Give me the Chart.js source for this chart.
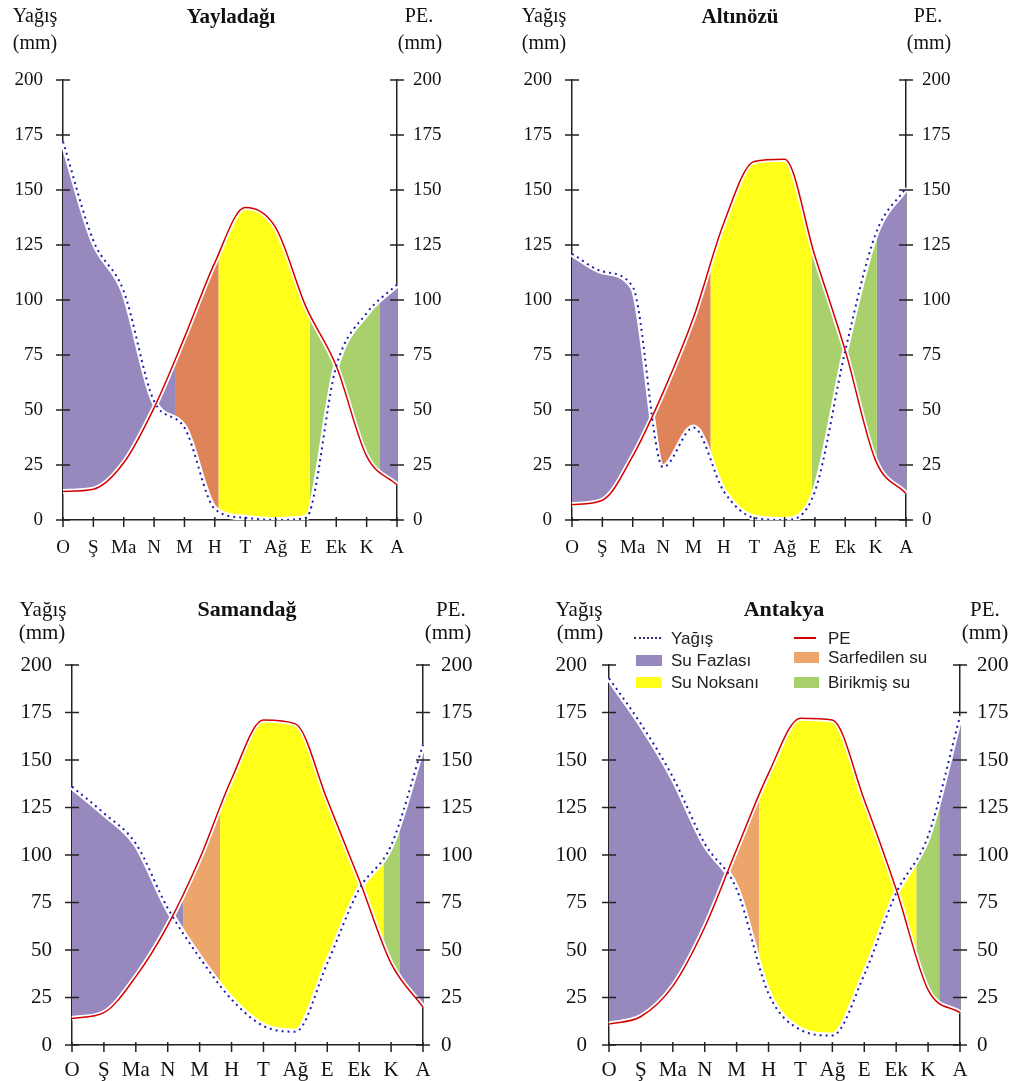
<!DOCTYPE html>
<html><head><meta charset="utf-8">
<script src="https://cdn.jsdelivr.net/npm/chart.js@4.4.0/dist/chart.umd.min.js"></script>
<style>
html,body{margin:0;padding:0;background:#fff;}
#wrap{position:relative;width:1018px;height:1081px;overflow:hidden;font-family:'Liberation Serif','Times New Roman',serif;color:#111;}
canvas{position:absolute;}
.c{position:absolute;transform:translate(-50%,-50%);white-space:nowrap;line-height:1;z-index:2;}
.t{font-weight:bold;}
.lg{position:absolute;transform:translateY(-50%);white-space:nowrap;line-height:1;font-family:'Liberation Sans',Arial,sans-serif;font-size:17px;color:#222;z-index:2;}
.sw{position:absolute;z-index:2;}
</style></head>
<body><div id="wrap">
<canvas id="c1" width="509" height="575" style="left:0;top:0"></canvas>
<canvas id="c2" width="509" height="575" style="left:509px;top:0"></canvas>
<canvas id="c3" width="509" height="501" style="left:0;top:580px"></canvas>
<canvas id="c4" width="509" height="501" style="left:509px;top:580px"></canvas>

<div class="c t" style="left:231px;top:16px;font-size:21px">Yayladağı</div>
<div class="c" style="left:35px;top:15px;font-size:20px">Yağış</div>
<div class="c" style="left:35px;top:42px;font-size:20px">(mm)</div>
<div class="c" style="left:419px;top:15px;font-size:20px">PE.</div>
<div class="c" style="left:420px;top:42px;font-size:20px">(mm)</div>

<div class="c t" style="left:740px;top:16px;font-size:21px">Altınözü</div>
<div class="c" style="left:544px;top:15px;font-size:20px">Yağış</div>
<div class="c" style="left:544px;top:42px;font-size:20px">(mm)</div>
<div class="c" style="left:928px;top:15px;font-size:20px">PE.</div>
<div class="c" style="left:929px;top:42px;font-size:20px">(mm)</div>

<div class="c t" style="left:247px;top:609px;font-size:22px">Samandağ</div>
<div class="c" style="left:43px;top:609px;font-size:21px">Yağış</div>
<div class="c" style="left:42px;top:632px;font-size:21px">(mm)</div>
<div class="c" style="left:451px;top:609px;font-size:21px">PE.</div>
<div class="c" style="left:448px;top:632px;font-size:21px">(mm)</div>

<div class="c t" style="left:784px;top:609px;font-size:22px">Antakya</div>
<div class="c" style="left:579px;top:609px;font-size:21px">Yağış</div>
<div class="c" style="left:580px;top:632px;font-size:21px">(mm)</div>
<div class="c" style="left:985px;top:609px;font-size:21px">PE.</div>
<div class="c" style="left:985px;top:632px;font-size:21px">(mm)</div>

<div class="sw" style="left:634px;top:637px;width:27px;height:0;border-top:2px dotted #2a2a70"></div>
<div class="lg" style="left:671px;top:638px">Yağış</div>
<div class="sw" style="left:794px;top:637px;width:22px;height:2px;background:#d40000"></div>
<div class="lg" style="left:828px;top:638px">PE</div>
<div class="sw" style="left:636px;top:655px;width:26px;height:11px;background:#9788bd"></div>
<div class="lg" style="left:671px;top:660px">Su Fazlası</div>
<div class="sw" style="left:794px;top:652px;width:25px;height:11px;background:#eca66b"></div>
<div class="lg" style="left:828px;top:657px">Sarfedilen su</div>
<div class="sw" style="left:636px;top:677px;width:25px;height:11px;background:#ffff1a"></div>
<div class="lg" style="left:671px;top:682px">Su Noksanı</div>
<div class="sw" style="left:794px;top:677px;width:25px;height:11px;background:#a8d16e"></div>
<div class="lg" style="left:828px;top:682px">Birikmiş su</div>
</div>
<script>
// ---- data ----
const months = ['O','Ş','Ma','N','M','H','T','Ağ','E','Ek','K','A'];
const yTickValues = [0,25,50,75,100,125,150,175,200];

const yayladagiYagis = [172,127,104,54,42,5,1,0,1,70,94,107];
const yayladagiPE    = [13,14,26,51,83,117,142,133,97,70,29,16];
const yayladagiZoneEdges = [0,3.69,5.12,8.13,10.44,11];
const yayladagiZoneKinds = ['fazla','sarf','noksan','birik','fazla'];

const altinozuYagis = [121,113,106,24,42,13,1,0,13,77,130,151];
const altinozuPE    = [7,9,29,58,92,135,163,164,120,77,27,12];
const altinozuZoneEdges = [0,2.69,4.56,7.9,10.04,11];
const altinozuZoneKinds = ['fazla','sarf','noksan','birik','fazla'];

const samandagYagis = [136,122,106,72,46,24,10,7,43,82,105,158];
const samandagPE    = [14,17,36,63,98,140,171,169,129,87,43,20];
const samandagZoneEdges = [0,3.49,4.64,9.76,10.28,11];
const samandagZoneKinds = ['fazla','sarf','noksan','birik','fazla'];

const antakyaYagis = [193,169,141,106,82,27,8,5,37,80,110,173];
const antakyaPE    = [11,15,31,62,103,143,172,171,129,82,29,17];
const antakyaZoneEdges = [0,3.66,4.7,9.63,10.35,11];
const antakyaZoneKinds = ['fazla','sarf','noksan','birik','fazla'];

// ---- plugins ----
Chart.defaults.font.family = "'Liberation Serif','Times New Roman',serif";
Chart.defaults.color = '#111';

const zoneClip = {
  id: 'zoneClip',
  beforeDatasetDraw(chart, args) {
    const ds = chart.data.datasets[args.index];
    if (!ds.zone) return;
    const sx = chart.scales.x, a = chart.chartArea, ctx = chart.ctx;
    const l = sx.getPixelForValue(ds.zone[0]), r = sx.getPixelForValue(ds.zone[1]);
    ctx.save(); ctx.beginPath(); ctx.rect(l, a.top - 10, r - l, a.bottom - a.top + 20); ctx.clip();
  },
  afterDatasetDraw(chart, args) {
    const ds = chart.data.datasets[args.index];
    if (ds.zone) chart.ctx.restore();
  }
};
const fillerPlugin = Chart.registry.getPlugin('filler');
Chart.unregister(fillerPlugin);
Chart.register(zoneClip);
Chart.register(fillerPlugin);

const crossTicks = {
  id: 'crossTicks',
  afterDraw(chart) {
    const ctx = chart.ctx, a = chart.chartArea, L = 7;
    ctx.save(); ctx.strokeStyle = '#222'; ctx.lineWidth = 1.5;
    ['y','y2'].forEach(id => {
      const s = chart.scales[id]; const xx = id === 'y' ? a.left : a.right;
      s.ticks.forEach((t, i) => { const py = s.getPixelForTick(i); ctx.beginPath(); ctx.moveTo(xx - L, py); ctx.lineTo(xx + L, py); ctx.stroke(); });
    });
    const sx = chart.scales.x;
    sx.ticks.forEach((t, i) => { const px = sx.getPixelForTick(i); ctx.beginPath(); ctx.moveTo(px, a.bottom - 3); ctx.lineTo(px, a.bottom + 7); ctx.stroke(); });
    ctx.restore();
  }
};

function build(id, yagis, pe, edges, kinds, g) {
  const colors = {fazla: '#9788bd', sarf: g.orange, noksan: '#ffff1a', birik: '#a8d16e'};
  const base = {pointRadius: 0, cubicInterpolationMode: 'monotone', fill: false};
  const zones = kinds.map((k, i) => Object.assign({}, base, {
    data: yagis.slice(), zone: [edges[i], edges[i + 1]],
    borderWidth: 0, borderColor: 'rgba(0,0,0,0)',
    fill: {target: 1, above: colors[k], below: colors[k]}
  }));
  const datasets = [
    Object.assign({}, base, {label: 'Yağış', data: yagis, borderColor: '#1c1cb0', borderWidth: 2, borderDash: [2, 4]}),
    Object.assign({}, base, {label: 'PE', data: pe, borderColor: '#d40000', borderWidth: 1.5}),
    Object.assign({}, base, {data: yagis, borderColor: '#ffffff', borderWidth: 6}),
    Object.assign({}, base, {data: pe, borderColor: '#ffffff', borderWidth: 5}),
    ...zones
  ];
  const yAxis = (pos, pad, w) => ({
    position: pos, min: 0, max: 200,
    grid: {display: false, drawTicks: false},
    border: {display: true, color: '#222', width: 1.5},
    ticks: {padding: pad, font: {size: g.fs}, color: '#111'},
    afterBuildTicks: s => { s.ticks = yTickValues.map(v => ({value: v})); },
    afterFit: s => { s.width = w; }
  });
  new Chart(document.getElementById(id), {
    type: 'line',
    data: {labels: months, datasets},
    options: {
      responsive: false, animation: false,
      layout: {padding: {top: g.top, left: 0, right: 0, bottom: 0}},
      plugins: {legend: {display: false}, tooltip: {enabled: false}, title: {display: false}},
      scales: {
        x: {type: 'category', offset: false, grid: {display: false, drawTicks: false},
            border: {display: true, color: '#222', width: 1.5},
            ticks: {padding: g.xPad, font: {size: g.fs}, color: '#111', autoSkip: false, maxRotation: 0},
            afterFit: s => { s.height = g.xH; }},
        y: yAxis('left', g.lPad, g.lW),
        y2: yAxis('right', g.rPad, g.rW)
      }
    },
    plugins: [crossTicks]
  });
}

build('c1', yayladagiYagis, yayladagiPE, yayladagiZoneEdges, yayladagiZoneKinds,
  {top: 80, xH: 55, lW: 63, rW: 112, lPad: 20, rPad: 16, xPad: 17, fs: 19, orange: '#de835a'});
build('c2', altinozuYagis, altinozuPE, altinozuZoneEdges, altinozuZoneKinds,
  {top: 80, xH: 55, lW: 63, rW: 112, lPad: 20, rPad: 16, xPad: 17, fs: 19, orange: '#de835a'});
build('c3', samandagYagis, samandagPE, samandagZoneEdges, samandagZoneKinds,
  {top: 85, xH: 36, lW: 72, rW: 86, lPad: 20, rPad: 18, xPad: 13, fs: 21, orange: '#eca66b'});
build('c4', antakyaYagis, antakyaPE, antakyaZoneEdges, antakyaZoneKinds,
  {top: 85, xH: 36, lW: 100, rW: 58, lPad: 22, rPad: 17, xPad: 13, fs: 21, orange: '#eca66b'});
</script>
</body></html>
